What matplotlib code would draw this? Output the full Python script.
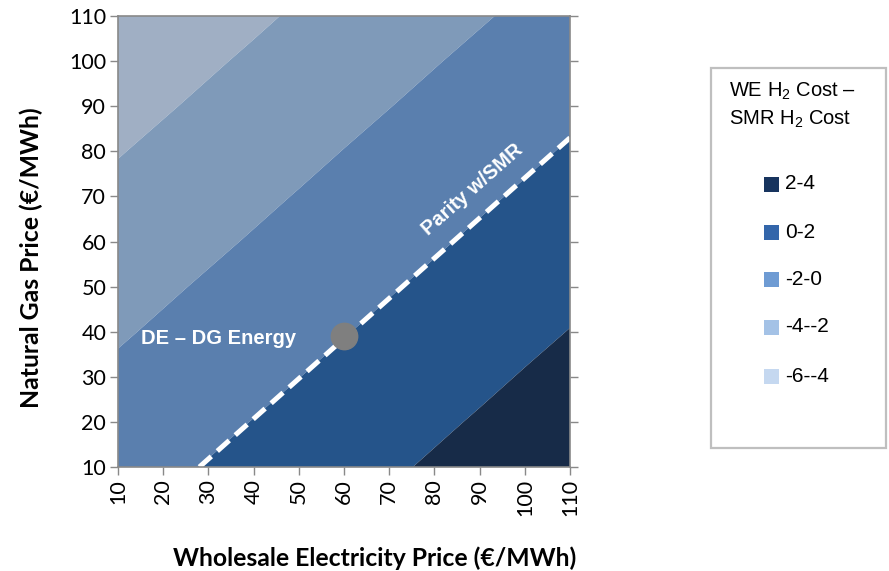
import matplotlib
matplotlib.use("Agg")
import matplotlib.pyplot as plt
from matplotlib.patches import Rectangle
import numpy as np

plt.rcParams['mathtext.fontset'] = 'custom'
plt.rcParams['mathtext.rm'] = 'Liberation Sans'

# ---- data ----
elec_price = [10, 20, 30, 40, 50, 60, 70, 80, 90, 100, 110]
gas_price = [10, 20, 30, 40, 50, 60, 70, 80, 90, 100, 110]
# WE H2 cost - SMR H2 cost; rows = gas price, cols = electricity price
cost_diff = [
    [-0.75, -0.33, 0.09, 0.52, 0.94, 1.36, 1.78, 2.20, 2.63, 3.05, 3.47],
    [-1.23, -0.81, -0.38, 0.04, 0.46, 0.88, 1.31, 1.73, 2.15, 2.57, 2.99],
    [-1.70, -1.28, -0.86, -0.44, -0.02, 0.41, 0.83, 1.25, 1.67, 2.10, 2.52],
    [-2.18, -1.76, -1.34, -0.91, -0.49, -0.07, 0.35, 0.78, 1.20, 1.62, 2.04],
    [-2.66, -2.23, -1.81, -1.39, -0.97, -0.55, -0.12, 0.30, 0.72, 1.14, 1.57],
    [-3.13, -2.71, -2.29, -1.87, -1.44, -1.02, -0.60, -0.18, 0.25, 0.67, 1.09],
    [-3.61, -3.19, -2.76, -2.34, -1.92, -1.50, -1.08, -0.65, -0.23, 0.19, 0.61],
    [-4.08, -3.66, -3.24, -2.82, -2.40, -1.97, -1.55, -1.13, -0.71, -0.29, 0.14],
    [-4.56, -4.14, -3.72, -3.29, -2.87, -2.45, -2.03, -1.61, -1.18, -0.76, -0.34],
    [-5.04, -4.61, -4.19, -3.77, -3.35, -2.93, -2.50, -2.08, -1.66, -1.24, -0.82],
    [-5.51, -5.09, -4.67, -4.25, -3.82, -3.40, -2.98, -2.56, -2.14, -1.72, -1.29],
]
levels = [-6, -4, -2, 0, 2, 4]
band_labels = ['-6--4', '-4--2', '-2-0', '0-2', '2-4']
fill_colors = ['#A0AFC4', '#7F9AB9', '#5A7FAE', '#25548A', '#172B48']
legend_colors = ['#C5D8F0', '#A4C2E6', '#6E9BD3', '#3366AA', '#17345E']

parity_x = [28, 110]
parity_y = [10, 83]
point_x = [60]
point_y = [39]

ticks = [10, 20, 30, 40, 50, 60, 70, 80, 90, 100, 110]

# ---- figure ----
fig = plt.figure(figsize=(8.89, 5.71), dpi=100)
ax = fig.add_axes([118/889, 1-467/571, 452/889, 451/571])

X, Y = np.meshgrid(elec_price, gas_price)
ax.contourf(X, Y, np.array(cost_diff), levels=levels, colors=fill_colors, antialiased=True)

ax.plot(parity_x, parity_y, color='white', lw=3.6, dashes=(3.2, 1.6), solid_capstyle='butt', dash_capstyle='butt')
ax.plot(point_x, point_y, 'o', color='#7F7F7F', markersize=19, zorder=5)

ax.text(15, 38.6, 'DE – DG Energy', color='white', fontsize=14.5, fontweight='bold',
        family='Liberation Sans', va='center', ha='left')
ax.text(88.5, 71.5, 'Parity w/SMR', color='white', fontsize=14.5, fontweight='bold',
        family='Liberation Sans', va='center', ha='center', rotation=41.5,
        rotation_mode='anchor')

ax.set_xlim(10, 110)
ax.set_ylim(10, 110)
ax.set_xticks(ticks)
ax.set_yticks(ticks)
ax.set_xticklabels([str(t) for t in ticks], rotation=90, family='Lato', fontsize=15.5)
ax.set_yticklabels([str(t) for t in ticks], family='Lato', fontsize=15.5)
ax.tick_params(axis='both', direction='out', length=5.5, width=1, color='#898989', pad=3)
ax.tick_params(axis='y', right=True, which='both')
for s in ax.spines.values():
    s.set_color('#898989')
    s.set_linewidth(1.2)

ax.set_xlabel('Wholesale Electricity Price (€/MWh)', family='Lato', fontweight='bold',
              fontsize=17.8)
ax.set_ylabel('Natural Gas Price (€/MWh)', family='Lato', fontweight='bold',
              fontsize=17.8)
ax.xaxis.set_label_coords((375-118)/452, (467-558)/451)
ax.xaxis.label.set_va('center')
ax.yaxis.set_label_coords((31-118)/452, (467-258)/451)
ax.yaxis.label.set_va('center')

# ---- legend ----
fig.patches.append(Rectangle((711/889, 1-448/571), 175/889, 380/571, transform=fig.transFigure,
                             facecolor='white', edgecolor='#BFBFBF', linewidth=1.6))
fig.text(729/889, 1-91/571, 'WE H$_\\mathrm{2}$ Cost –', family='Liberation Sans', fontsize=14.5,
         va='center', ha='left')
fig.text(729/889, 1-119/571, 'SMR H$_\\mathrm{2}$ Cost', family='Liberation Sans', fontsize=14.5,
         va='center', ha='left')
item_y = [184, 232, 279, 327, 376]
for lab, col, yy in zip(band_labels[::-1], legend_colors[::-1], item_y):
    fig.patches.append(Rectangle((764/889, 1-(yy+7.5)/571), 15/889, 15/571,
                                 transform=fig.transFigure, facecolor=col, edgecolor='none'))
    fig.text(785/889, 1-yy/571, lab, family='Liberation Sans', fontsize=15, va='center', ha='left')

fig.savefig('out.png', dpi=100)
